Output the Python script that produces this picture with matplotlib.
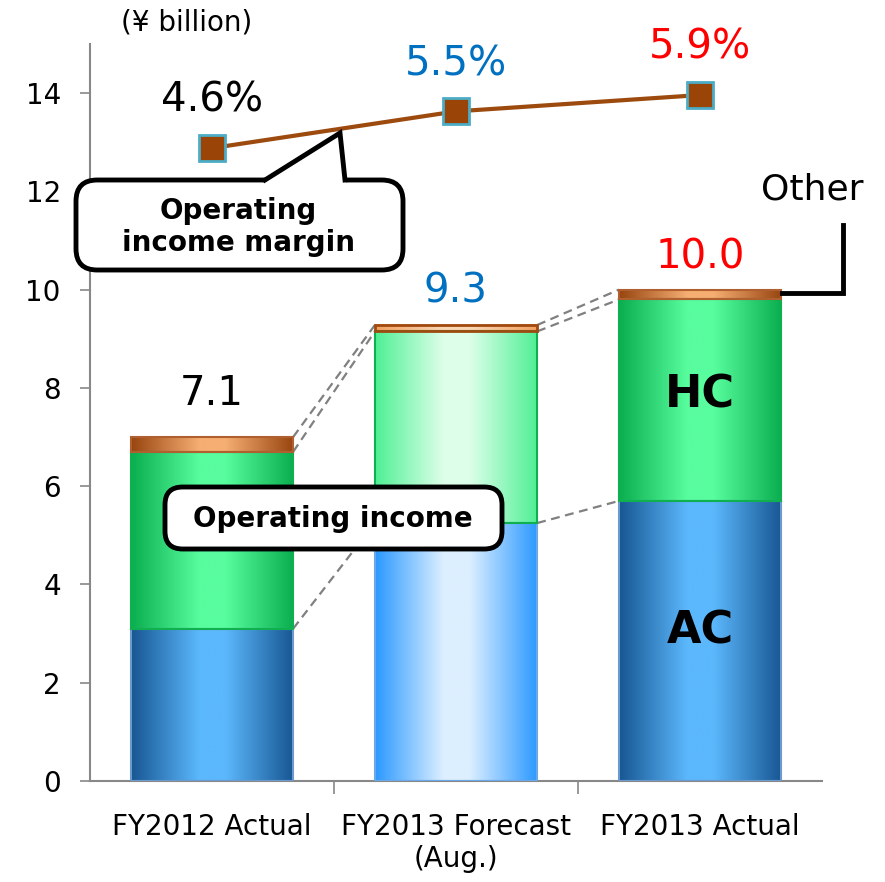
import matplotlib
matplotlib.use("Agg")
import matplotlib.pyplot as plt
import numpy as np
from matplotlib.colors import LinearSegmentedColormap
from matplotlib.patches import FancyBboxPatch, Polygon
from matplotlib.lines import Line2D

plt.rcParams["font.family"] = ["DejaVu Sans"]

# data
categories = ["FY2012 Actual", "FY2013 Forecast\n(Aug.)", "FY2013 Actual"]
ac = [3.1, 5.25, 5.7]
hc = [3.6, 3.9, 4.1]
other = [0.3, 0.13, 0.2]
total_labels = ["7.1", "9.3", "10.0"]
margin = [4.6, 5.5, 5.9]
margin_labels = ["4.6%", "5.5%", "5.9%"]
label_colors = ["black", "#0070C0", "#FF0000"]
forecast = [False, True, False]

W, H = 885, 882
fig = plt.figure(figsize=(W / 100, H / 100), dpi=100)
ax = fig.add_axes([90 / W, 1 - 781 / H, (822 - 90) / W, (781 - 44) / H])


def px(x, y):
    # reference pixel -> figure fraction
    return (x / W, 1 - y / H)


def gradient_cmap(edge, center):
    return LinearSegmentedColormap.from_list(
        "g", [(0, edge), (0.42, center), (0.58, center), (1, edge)]
    )


styles = {
    "ac": (gradient_cmap("#175692", "#5cb8fc"), "#6a9ad0"),
    "ac_f": (gradient_cmap("#2b99ff", "#dcefff"), "#6aa8e8"),
    "hc": (gradient_cmap("#0aae4e", "#58fd9e"), "#10b050"),
    "hc_f": (gradient_cmap("#4ff094", "#ddffea"), "#10b050"),
    "ot": (gradient_cmap("#984510", "#f6ae72"), "#b06030"),
    "ot_f": (gradient_cmap("#f3a060", "#fbd6b4"), "#a04a10"),
}

x = np.arange(len(categories))
width = 0.665
grad = np.linspace(0, 1, 256).reshape(1, -1)

bottoms = np.zeros(len(x))
tops = []
for name, vals in [("ac", ac), ("hc", hc), ("ot", other)]:
    for i in range(len(x)):
        key = name + ("_f" if forecast[i] else "")
        cmap, edge = styles[key]
        bar = ax.bar(x[i], vals[i], width, bottom=bottoms[i], facecolor="none",
                     edgecolor=edge, linewidth=2 if name == "ot" and forecast[i] else 1.5,
                     zorder=3)[0]
        ax.imshow(grad, cmap=cmap, aspect="auto", zorder=2,
                  extent=(bar.get_x(), bar.get_x() + bar.get_width(),
                          bar.get_y(), bar.get_y() + bar.get_height()))
    bottoms = bottoms + np.array(vals)
    tops.append(bottoms.copy())

# dashed connectors between bars
for level in tops:
    for i in range(len(x) - 1):
        ax.plot([x[i] + width / 2, x[i + 1] - width / 2], [level[i], level[i + 1]],
                color="#808080", linestyle=(0, (4, 2.5)), linewidth=1.6, zorder=1)

# total labels
offsets = [31, 24, 23]
for i in range(len(x)):
    ax.annotate(total_labels[i], (x[i], bottoms[i]), xytext=(0, offsets[i]),
                textcoords="offset points", ha="center", va="center",
                fontsize=29, color=label_colors[i])

ax.set_xlim(-0.5, 2.5)
ax.set_ylim(0, 15)
ax.set_yticks(range(0, 15, 2))
ax.set_xticks(x)
ax.set_xticklabels(categories)
ax.set_xticks([0.5, 1.5], minor=True)
ax.tick_params(axis="x", which="major", length=0, pad=23, labelsize=20)
ax.tick_params(axis="x", which="minor", length=9, color="#888888", width=1.2)
ax.tick_params(axis="y", length=7, color="#888888", width=1.2, labelsize=20, pad=14)
for s in ["top", "right"]:
    ax.spines[s].set_visible(False)
for s in ["left", "bottom"]:
    ax.spines[s].set_color("#888888")
    ax.spines[s].set_linewidth(1.5)

# margin line on a hidden secondary scale
ax2 = ax.twinx()
ax2.set_ylim(-10.9, 7.15)
ax2.axis("off")
ax2.plot(x, margin, color="#9c4a0e", linewidth=3, marker="s", markersize=19,
         markerfacecolor="#9a4408", markeredgecolor="#4bacc6", markeredgewidth=2,
         zorder=5)
for i in range(len(x)):
    ax2.annotate(margin_labels[i], (x[i], margin[i]), xytext=(0, 34),
                 textcoords="offset points", ha="center", va="center",
                 fontsize=29, color=label_colors[i])

fig.text(*px(187, 22), "(¥ billion)", ha="center", va="center", fontsize=20)

# callout: operating income margin
box = FancyBboxPatch(px(76, 270), 327 / W, 90 / H, transform=fig.transFigure,
                     boxstyle="round,pad=0,rounding_size=0.024", facecolor="white",
                     edgecolor="black", linewidth=3.5, zorder=10)
fig.add_artist(box)
wedge = Polygon([px(262, 184), px(340, 133), px(346, 184)], closed=True,
                transform=fig.transFigure, facecolor="white", edgecolor="none",
                zorder=11)
fig.add_artist(wedge)
fig.add_artist(Line2D([265 / W, 340 / W, 345 / W], [1 - 180 / H, 1 - 133 / H, 1 - 180 / H],
                      transform=fig.transFigure, color="black", linewidth=3.5,
                      solid_joinstyle="miter", zorder=12))
fig.text(*px(238, 227), "Operating\nincome margin", ha="center", va="center",
         fontsize=20, fontweight="bold", linespacing=1.2, zorder=13)

# callout: operating income
box2 = FancyBboxPatch(px(165, 549), 337 / W, 62 / H, transform=fig.transFigure,
                      boxstyle="round,pad=0,rounding_size=0.02", facecolor="white",
                      edgecolor="black", linewidth=3.5, zorder=10)
fig.add_artist(box2)
fig.text(*px(333, 519), "Operating income", ha="center", va="center",
         fontsize=20, fontweight="bold", zorder=13)

# segment labels
ax.text(x[2], ac[2] / 2 + 0.2, "AC", ha="center", va="center", fontsize=32,
        fontweight="bold", zorder=6)
ax.text(x[2], ac[2] + hc[2] / 2 + 0.1, "HC", ha="center", va="center", fontsize=32,
        fontweight="bold", zorder=6)

# other label with bracket
fig.add_artist(Line2D([782 / W, 843 / W, 843 / W], [1 - 293 / H, 1 - 293 / H, 1 - 225 / H],
                      transform=fig.transFigure, color="black", linewidth=3.5,
                      solid_joinstyle="miter"))
fig.text(*px(812, 189), "Other", ha="center", va="center", fontsize=26)

fig.savefig("out.png", dpi=100)
